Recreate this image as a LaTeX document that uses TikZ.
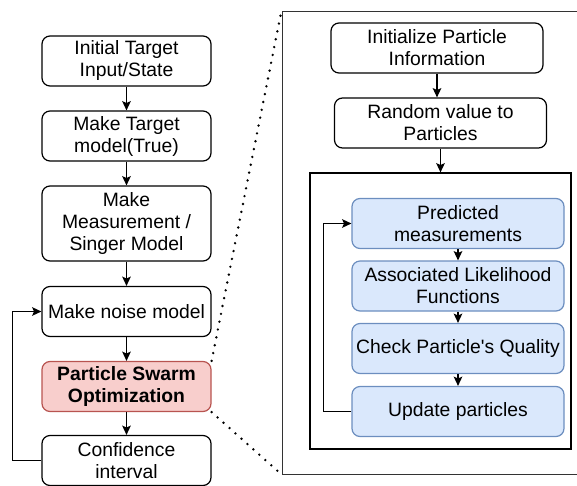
\documentclass[tikz,border=0pt]{standalone}
\usepackage{fontspec}
\setmainfont{Liberation Sans}
\usetikzlibrary{arrows.meta}
\definecolor{psofill}{HTML}{F8CECC}
\definecolor{psodraw}{HTML}{B85450}
\definecolor{stepfill}{HTML}{DAE8FC}
\definecolor{stepdraw}{HTML}{6C8EBF}
\begin{document}
\begin{tikzpicture}[x=0.75pt,y=-0.75pt,
    box/.style={draw,rounded corners=6pt,line width=0.9pt,align=center,
      inner sep=0pt,font=\fontsize{14.5}{16.5}\selectfont},
    mainbox/.style={box,minimum width=126.75pt,minimum height=37.5pt},
    psobox/.style={box,minimum width=159pt,minimum height=37.5pt},
    bluebox/.style={psobox,draw=stepdraw,fill=stepfill},
    flow/.style={-{Stealth[length=7pt,width=6.5pt,inset=1.5pt]},line width=1pt},
    zoomline/.style={line width=2pt,line cap=round,dash pattern=on 0pt off 6pt}]
  \clip (0,0) rectangle (577,485);
  % main flow
  \node[mainbox] (init) at (126.5,61) {Initial Target\\Input/State};
  \node[mainbox] (target) at (126.5,136) {Make Target\\model(True)};
  \node[mainbox,minimum height=56.25pt] (meas) at (126.5,223.5) {Make\\Measurement /\\Singer Model};
  \node[mainbox] (noise) at (126.5,311.5) {Make noise model};
  \node[mainbox,draw=psodraw,fill=psofill,font=\fontsize{14.5}{16.5}\selectfont\bfseries]
    (pso) at (126.5,386.5) {Particle Swarm\\Optimization};
  \node[mainbox] (conf) at (126.5,460.5) {Confidence\\interval};
  % zoomed PSO steps
  \node[draw=black!80,line width=0.7pt,minimum width=223.5pt,minimum height=347.25pt] (zoom) at (431,242.5) {};
  \node[psobox] (initp) at (437,48) {Initialize Particle\\Information};
  \node[psobox] (rand) at (440.5,123) {Random value to\\Particles};
  \node[draw,line width=0.9pt,minimum width=195.75pt,minimum height=207pt] (loop) at (440.5,311) {};
  \node[bluebox] (pred) at (458,223.5) {Predicted\\measurements};
  \node[bluebox] (assoc) at (458,286) {Associated Likelihood\\Functions};
  \node[bluebox] (check) at (458,348.5) {Check Particle\textquotesingle s Quality};
  \node[bluebox] (upd) at (458,411.5) {Update particles};
  \begin{scope}[flow]
    \draw (init) -- (target);
    \draw (target) -- (meas);
    \draw (meas) -- (noise);
    \draw (noise) -- (pso);
    \draw (pso) -- (conf);
    \draw (conf.west) -- ++(-29,0) |- (noise.west);
    \draw (initp.south) -- (initp.south |- rand.north);
    \draw (rand.south) -- (rand.south |- loop.north);
    \draw (pred) -- (assoc);
    \draw (assoc) -- (check);
    \draw (check) -- (upd);
    \draw (upd.west) -- ++(-28,0) |- (pred.west);
  \end{scope}
  \draw[zoomline] (pso.north east) -- (zoom.north west);
  \draw[zoomline] (pso.south east) -- (zoom.south west);
\end{tikzpicture}
\end{document}
